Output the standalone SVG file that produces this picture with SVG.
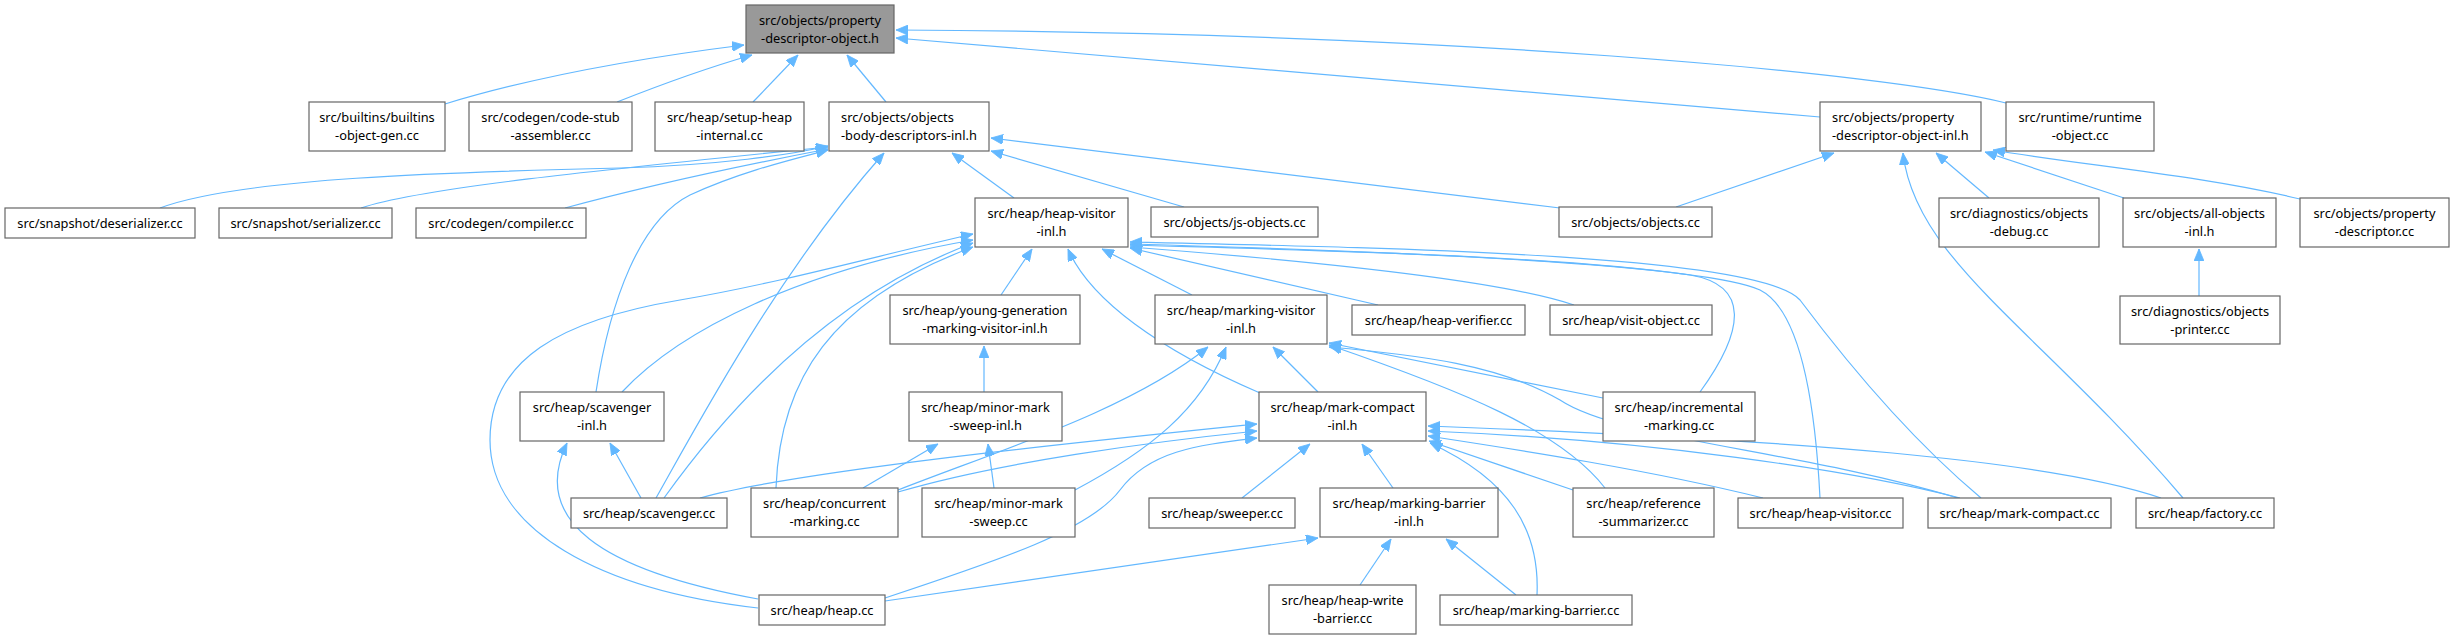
<svg xmlns="http://www.w3.org/2000/svg" width="2454" height="639" viewBox="0 0 2454 639">
<style>
.n rect{fill:#fff;stroke:#666;stroke-width:1.2}
.n.main rect{fill:#999}
.n text{font-family:"Noto Sans","Open Sans",sans-serif;font-size:12.8px;fill:#000;text-anchor:middle}
.n text.l{text-anchor:start}
#edges path{fill:none;stroke:#63b8ff;stroke-width:1.2;marker-end:url(#arr)}
</style>
<defs>
<marker id="arr" viewBox="0 0 12 10" refX="12" refY="5" markerWidth="12" markerHeight="10" markerUnits="userSpaceOnUse" orient="auto">
<path d="M0,0 L12,5 L0,10 z" fill="#63b8ff" stroke="#63b8ff" stroke-width="0.8"/>
</marker>
</defs>
<rect width="2454" height="639" fill="#fff"/>
<g id="edges">
<path d="M445,104 C530,78 640,58 744,45"/>
<path d="M617,102 C660,85 710,67 752,55"/>
<path d="M753,102 L798,55"/>
<path d="M886,102 L847,55"/>
<path d="M1820,117 L896,38"/>
<path d="M2006,103 C1880,72 1450,33 896,30"/>
<path d="M160,208 C240,178 450,172 620,168 C720,165 790,155 828,146"/>
<path d="M361,208 C420,188 600,170 828,147"/>
<path d="M565,208 C650,185 760,162 828,149"/>
<path d="M596,392 C610,300 640,220 690,195 C740,172 790,160 828,150"/>
<path d="M656,498 C700,420 780,270 884,153"/>
<path d="M1014,198 L952,153"/>
<path d="M1184,207 L991,151"/>
<path d="M1560,208 L991,138"/>
<path d="M1676,207 L1834,153"/>
<path d="M2183,498 C2040,330 1915,260 1903,153"/>
<path d="M1989,198 L1936,153"/>
<path d="M2124,198 L1985,152"/>
<path d="M2300,199 C2200,175 2080,165 1993,150"/>
<path d="M2199,296 L2199,249"/>
<path d="M1001,295 L1032,249"/>
<path d="M1192,295 L1102,249"/>
<path d="M1260,393 C1160,350 1090,300 1068,249"/>
<path d="M1378,305 L1130,248"/>
<path d="M1574,305 C1500,280 1300,260 1130,247"/>
<path d="M1700,392 C1745,330 1750,285 1690,275 C1550,255 1300,250 1130,245"/>
<path d="M1820,498 C1815,400 1800,310 1760,290 C1700,262 1350,250 1130,244"/>
<path d="M1981,498 C1900,430 1830,340 1800,300 C1760,255 1400,248 1130,242"/>
<path d="M622,392 C680,330 800,270 973,240"/>
<path d="M758,608 C600,590 490,530 490,440 C490,360 560,320 680,300 C780,283 880,255 973,234"/>
<path d="M776,488 C780,380 830,300 973,247"/>
<path d="M664,498 C720,420 820,300 973,243"/>
<path d="M898,490 C1000,450 1130,410 1208,347"/>
<path d="M1075,490 C1150,450 1200,410 1226,347"/>
<path d="M1318,392 L1273,347"/>
<path d="M1603,398 L1329,343"/>
<path d="M1605,488 C1560,430 1460,390 1329,345"/>
<path d="M1958,498 C1800,450 1620,440 1560,400 C1500,365 1420,355 1329,347"/>
<path d="M863,488 L938,444"/>
<path d="M994,488 L988,444"/>
<path d="M984,392 L984,346"/>
<path d="M641,498 L610,443"/>
<path d="M758,599 C600,570 530,520 567,443"/>
<path d="M700,498 C800,470 1100,440 1257,424"/>
<path d="M898,492 C1000,462 1150,442 1257,431"/>
<path d="M885,598 C1000,560 1090,530 1120,490 C1150,450 1200,445 1257,438"/>
<path d="M1242,498 L1310,444"/>
<path d="M1393,488 L1362,444"/>
<path d="M1573,490 L1429,441"/>
<path d="M1763,498 C1650,470 1520,450 1428,436"/>
<path d="M1960,498 C1850,470 1650,440 1428,431"/>
<path d="M2161,498 C2050,460 1800,440 1428,426"/>
<path d="M1537,595 C1540,530 1510,480 1430,443"/>
<path d="M885,601 L1318,538"/>
<path d="M1360,585 L1391,539"/>
<path d="M1516,595 L1446,539"/>
</g>
<g id="n_main" class="n main"><rect x="746" y="5" width="148" height="48"/><text x="820" y="25">src/objects/property</text><text x="820" y="43">-descriptor-object.h</text></g>
<g id="n_builtins" class="n"><rect x="309" y="102" width="136" height="49"/><text x="377" y="122">src/builtins/builtins</text><text x="377" y="140">-object-gen.cc</text></g>
<g id="n_codestub" class="n"><rect x="469" y="102" width="163" height="49"/><text x="550.5" y="122">src/codegen/code-stub</text><text x="550.5" y="140">-assembler.cc</text></g>
<g id="n_setupheap" class="n"><rect x="655" y="102" width="149" height="49"/><text x="729.5" y="122">src/heap/setup-heap</text><text x="729.5" y="140">-internal.cc</text></g>
<g id="n_bodydesc" class="n"><rect x="829" y="102" width="160" height="49"/><text class="l" x="841" y="122">src/objects/objects</text><text class="l" x="841" y="140">-body-descriptors-inl.h</text></g>
<g id="n_objinl" class="n"><rect x="1820" y="102" width="161" height="49"/><text class="l" x="1832" y="122">src/objects/property</text><text class="l" x="1832" y="140">-descriptor-object-inl.h</text></g>
<g id="n_runtime" class="n"><rect x="2006" y="102" width="148" height="49"/><text x="2080" y="122">src/runtime/runtime</text><text x="2080" y="140">-object.cc</text></g>
<g id="n_deser" class="n"><rect x="5" y="208" width="190" height="30"/><text x="100" y="227.5">src/snapshot/deserializer.cc</text></g>
<g id="n_ser" class="n"><rect x="219" y="208" width="173" height="30"/><text x="305.5" y="227.5">src/snapshot/serializer.cc</text></g>
<g id="n_compiler" class="n"><rect x="416" y="208" width="170" height="30"/><text x="501" y="227.5">src/codegen/compiler.cc</text></g>
<g id="n_heapvisitorinl" class="n"><rect x="975" y="198" width="153" height="49"/><text x="1051.5" y="218">src/heap/heap-visitor</text><text x="1051.5" y="236">-inl.h</text></g>
<g id="n_jsobjects" class="n"><rect x="1151" y="207" width="167" height="30"/><text x="1234.5" y="226.5">src/objects/js-objects.cc</text></g>
<g id="n_objectscc" class="n"><rect x="1559" y="207" width="153" height="30"/><text x="1635.5" y="226.5">src/objects/objects.cc</text></g>
<g id="n_debug" class="n"><rect x="1939" y="198" width="160" height="49"/><text x="2019" y="218">src/diagnostics/objects</text><text x="2019" y="236">-debug.cc</text></g>
<g id="n_allobjects" class="n"><rect x="2123" y="198" width="153" height="49"/><text x="2199.5" y="218">src/objects/all-objects</text><text x="2199.5" y="236">-inl.h</text></g>
<g id="n_propdesc" class="n"><rect x="2300" y="198" width="149" height="49"/><text x="2374.5" y="218">src/objects/property</text><text x="2374.5" y="236">-descriptor.cc</text></g>
<g id="n_younggen" class="n"><rect x="890" y="295" width="190" height="49"/><text x="985" y="315">src/heap/young-generation</text><text x="985" y="333">-marking-visitor-inl.h</text></g>
<g id="n_markingvisitor" class="n"><rect x="1155" y="295" width="172" height="49"/><text x="1241" y="315">src/heap/marking-visitor</text><text x="1241" y="333">-inl.h</text></g>
<g id="n_heapverifier" class="n"><rect x="1352" y="305" width="173" height="30"/><text x="1438.5" y="324.5">src/heap/heap-verifier.cc</text></g>
<g id="n_visitobject" class="n"><rect x="1550" y="305" width="162" height="30"/><text x="1631" y="324.5">src/heap/visit-object.cc</text></g>
<g id="n_printer" class="n"><rect x="2120" y="296" width="160" height="48"/><text x="2200" y="316">src/diagnostics/objects</text><text x="2200" y="334">-printer.cc</text></g>
<g id="n_scavengerinl" class="n"><rect x="520" y="392" width="144" height="49"/><text x="592" y="412">src/heap/scavenger</text><text x="592" y="430">-inl.h</text></g>
<g id="n_minormarksweepinl" class="n"><rect x="909" y="392" width="153" height="49"/><text x="985.5" y="412">src/heap/minor-mark</text><text x="985.5" y="430">-sweep-inl.h</text></g>
<g id="n_markcompactinl" class="n"><rect x="1259" y="392" width="167" height="49"/><text x="1342.5" y="412">src/heap/mark-compact</text><text x="1342.5" y="430">-inl.h</text></g>
<g id="n_incremental" class="n"><rect x="1603" y="392" width="152" height="49"/><text x="1679" y="412">src/heap/incremental</text><text x="1679" y="430">-marking.cc</text></g>
<g id="n_scavengercc" class="n"><rect x="571" y="498" width="156" height="30"/><text x="649" y="517.5">src/heap/scavenger.cc</text></g>
<g id="n_concurrent" class="n"><rect x="751" y="488" width="147" height="49"/><text x="824.5" y="508">src/heap/concurrent</text><text x="824.5" y="526">-marking.cc</text></g>
<g id="n_minormarksweep" class="n"><rect x="922" y="488" width="153" height="49"/><text x="998.5" y="508">src/heap/minor-mark</text><text x="998.5" y="526">-sweep.cc</text></g>
<g id="n_sweeper" class="n"><rect x="1149" y="498" width="146" height="30"/><text x="1222" y="517.5">src/heap/sweeper.cc</text></g>
<g id="n_markingbarrierinl" class="n"><rect x="1320" y="488" width="178" height="49"/><text x="1409" y="508">src/heap/marking-barrier</text><text x="1409" y="526">-inl.h</text></g>
<g id="n_refsum" class="n"><rect x="1573" y="488" width="141" height="49"/><text x="1643.5" y="508">src/heap/reference</text><text x="1643.5" y="526">-summarizer.cc</text></g>
<g id="n_heapvisitorcc" class="n"><rect x="1738" y="498" width="165" height="30"/><text x="1820.5" y="517.5">src/heap/heap-visitor.cc</text></g>
<g id="n_markcompactcc" class="n"><rect x="1928" y="498" width="183" height="30"/><text x="2019.5" y="517.5">src/heap/mark-compact.cc</text></g>
<g id="n_factory" class="n"><rect x="2136" y="498" width="138" height="30"/><text x="2205" y="517.5">src/heap/factory.cc</text></g>
<g id="n_heapcc" class="n"><rect x="759" y="595" width="126" height="30"/><text x="822" y="614.5">src/heap/heap.cc</text></g>
<g id="n_heapwritebarrier" class="n"><rect x="1269" y="585" width="147" height="49"/><text x="1342.5" y="605">src/heap/heap-write</text><text x="1342.5" y="623">-barrier.cc</text></g>
<g id="n_markingbarriercc" class="n"><rect x="1440" y="595" width="192" height="30"/><text x="1536" y="614.5">src/heap/marking-barrier.cc</text></g>
</svg>
